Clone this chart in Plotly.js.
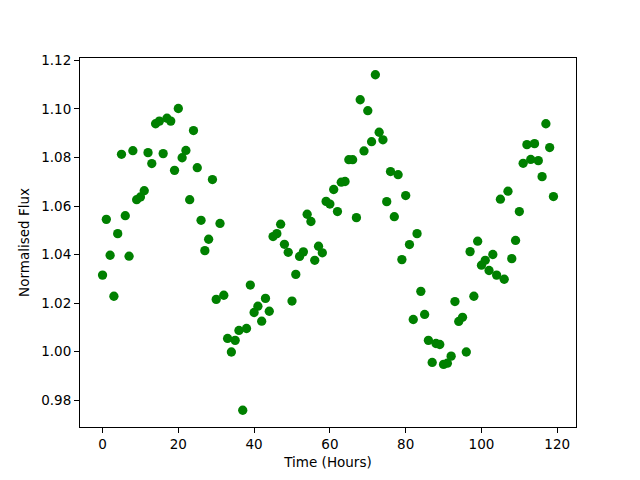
<!DOCTYPE html>
<html>
<head>
<meta charset="utf-8">
<script src="https://cdn.plot.ly/plotly-3.0.1.min.js"></script>
<style>html,body{margin:0;padding:0;background:#fff;}#chart{width:640px;height:480px;}</style>
</head>
<body>
<div id="chart"></div>
<script>
const timeHours = [0,1,2,3,4,5,6,7,8,9,10,11,12,13,14,15,16,17,18,19,20,21,22,23,24,25,26,27,28,29,30,31,32,33,34,35,36,37,38,39,40,41,42,43,44,45,46,47,48,49,50,51,52,53,54,55,56,57,58,59,60,61,62,63,64,65,66,67,68,69,70,71,72,73,74,75,76,77,78,79,80,81,82,83,84,85,86,87,88,89,90,91,92,93,94,95,96,97,98,99,100,101,102,103,104,105,106,107,108,109,110,111,112,113,114,115,116,117,118,119];
const normFlux = [
1.0315,1.0545,1.0397,1.0228,1.0486,1.0813,1.0560,1.0393,1.0828,1.0626,
1.0637,1.0663,1.0820,1.0775,1.0939,1.0950,1.0816,1.0962,1.0950,1.0747,
1.1002,1.0799,1.0829,1.0626,1.0911,1.0758,1.0541,1.0416,1.0463,1.0709,
1.0215,1.0528,1.0232,1.0054,0.9998,1.0046,1.0087,0.9758,1.0095,1.0274,
1.0161,1.0187,1.0125,1.0219,1.0166,1.0474,1.0486,1.0525,1.0442,1.0409,
1.0208,1.0318,1.0392,1.0411,1.0566,1.0536,1.0376,1.0434,1.0407,1.0619,
1.0608,1.0668,1.0577,1.0698,1.0701,1.0791,1.0791,1.0552,1.1038,1.0827,
1.0993,1.0865,1.1141,1.0904,1.0873,1.0618,1.0742,1.0556,1.0729,1.0379,
1.0643,1.0441,1.0132,1.0486,1.0248,1.0153,1.0046,0.9955,1.0033,1.0029,
0.9947,0.9952,0.9981,1.0206,1.0124,1.0141,0.9998,1.0412,1.0228,1.0455,
1.0356,1.0376,1.0334,1.0400,1.0315,1.0628,1.0298,1.0661,1.0383,1.0458,
1.0577,1.0776,1.0853,1.0792,1.0857,1.0787,1.0721,1.0939,1.0841,1.0639];
const xTicks = [0,20,40,60,80,100,120];
const yTicks = [0.98,1.00,1.02,1.04,1.06,1.08,1.10,1.12];

function padRange(arr){
  const mn = Math.min(...arr), mx = Math.max(...arr);
  const p = (mx - mn) * 0.05;
  return [mn - p, mx + p];
}

const font = {family: 'DejaVu Sans, sans-serif', size: 13.5, color: '#000'};
const axisCommon = {
  showgrid: false, zeroline: false, showline: true, mirror: true,
  linecolor: '#000', linewidth: 1, ticks: 'outside', ticklen: 5, tickwidth: 1,
  tickcolor: '#000', tickfont: font
};

Plotly.newPlot('chart', [{
  x: timeHours, y: normFlux, type: 'scatter', mode: 'markers',
  marker: {color: 'green', size: 9.3, line: {width: 0}},
  hoverinfo: 'skip'
}], {
  width: 640, height: 480,
  margin: {l: 80, r: 64, t: 58, b: 53, pad: 0},
  paper_bgcolor: '#fff', plot_bgcolor: '#fff',
  showlegend: false, font: font,
  xaxis: Object.assign({}, axisCommon, {
    range: padRange(timeHours), tickvals: xTicks, ticktext: xTicks.map(String),
    title: {text: 'Time (Hours)', font: font, standoff: 6}, automargin: false
  }),
  yaxis: Object.assign({}, axisCommon, {
    range: padRange(normFlux), tickvals: yTicks, ticktext: yTicks.map(v => v.toFixed(2)),
    title: {text: 'Normalised Flux', font: font, standoff: 8}, automargin: false
  })
}, {displayModeBar: false, staticPlot: true});
</script>
</body>
</html>
